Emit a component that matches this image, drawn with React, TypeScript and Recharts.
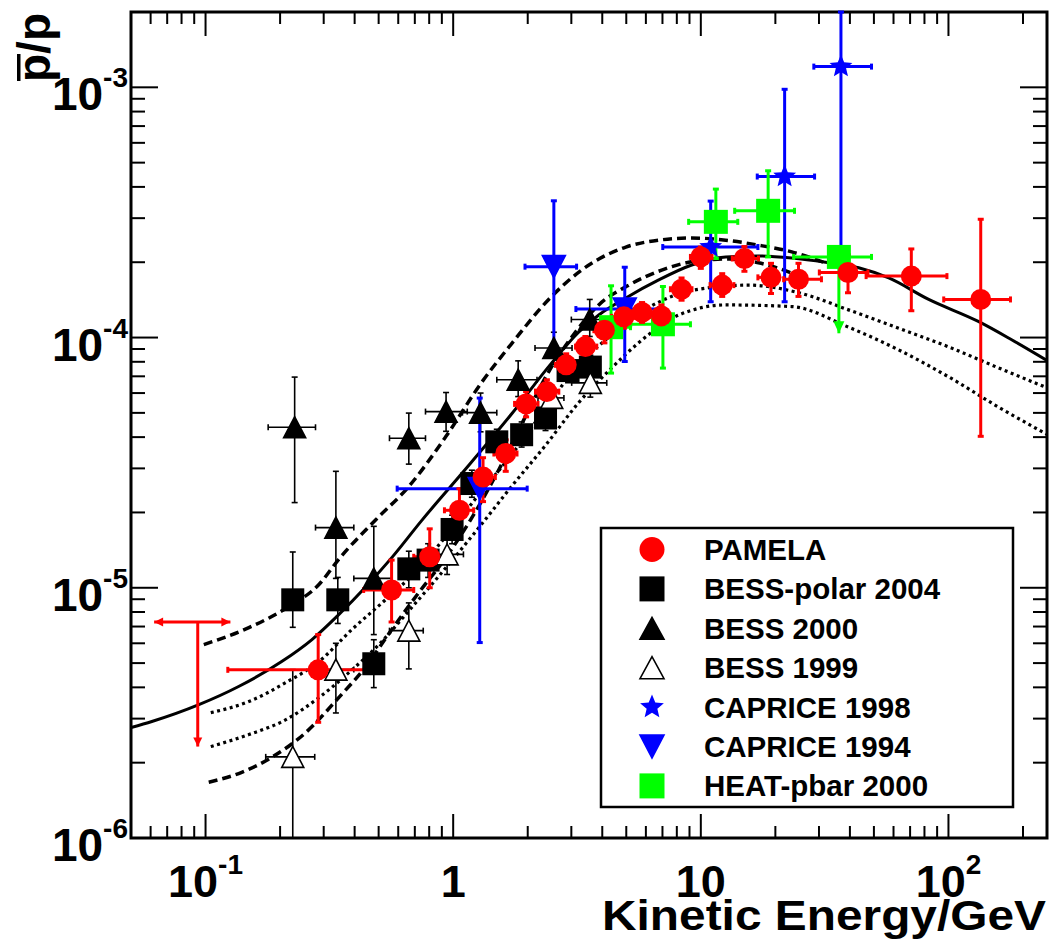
import React from "react";
import {
  ComposedChart,
  Line,
  Scatter,
  XAxis,
  YAxis,
  ErrorBar,
  ReferenceArea,
} from "recharts";

// rows: [E, Elow, Ehigh, ratio, ratioLow, ratioHigh]  (E in GeV)
const pamela = [
  [0.285, 0.123, 0.44, 4.7e-6, 2.9e-6, 6.5e-6],
  [0.564, 0.435, 0.693, 9.8e-6, 7.3e-6, 1.29e-5],
  [0.804, 0.693, 0.942, 1.33e-5, 1.0e-5, 1.72e-5],
  [1.06, 0.922, 1.21, 2.04e-5, 1.6e-5, 2.49e-5],
  [1.32, 1.175, 1.48, 2.77e-5, 2.21e-5, 3.31e-5],
  [1.63, 1.46, 1.81, 3.44e-5, 2.92e-5, 3.9e-5],
  [1.97, 1.77, 2.2, 5.43e-5, 4.82e-5, 6.08e-5],
  [2.39, 2.15, 2.67, 6.08e-5, 5.43e-5, 6.78e-5],
  [2.86, 2.59, 3.15, 7.78e-5, 6.9e-5, 8.61e-5],
  [3.42, 3.12, 3.8, 9.2e-5, 8.15e-5, 1.01e-4],
  [4.08, 3.7, 4.52, 1.07e-4, 9.52e-5, 1.2e-4],
  [4.89, 4.36, 5.36, 1.21e-4, 1.09e-4, 1.33e-4],
  [5.79, 5.26, 6.46, 1.26e-4, 1.15e-4, 1.38e-4],
  [6.93, 6.27, 7.64, 1.22e-4, 1.11e-4, 1.35e-4],
  [8.36, 7.54, 9.21, 1.56e-4, 1.41e-4, 1.73e-4],
  [10.0, 9.08, 11.1, 2.1e-4, 1.89e-4, 2.3e-4],
  [12.2, 10.9, 13.6, 1.62e-4, 1.46e-4, 1.8e-4],
  [15.0, 13.4, 17.1, 2.07e-4, 1.84e-4, 2.31e-4],
  [19.2, 17.0, 20.7, 1.74e-4, 1.5e-4, 1.98e-4],
  [24.8, 21.6, 30.7, 1.71e-4, 1.46e-4, 1.98e-4],
  [39.3, 30.1, 47.3, 1.82e-4, 1.51e-4, 2.14e-4],
  [70.8, 46.5, 98.6, 1.76e-4, 1.28e-4, 2.26e-4],
  [135, 95.7, 178, 1.42e-4, 4.03e-5, 2.97e-4],
];
// upper limit at lowest energy
const pamelaLimit = [[0.093, 0.062, 0.126, 7.3e-6, 2.32e-6, 7.3e-6]];

// [E, ratio, ratioLow, ratioHigh]
const bessPolar = [
  [0.225, 8.95e-6, 6.95e-6, 1.39e-5],
  [0.342, 8.95e-6, 7.2e-6, 1.1e-5],
  [0.478, 4.97e-6, 3.99e-6, 6.2e-6],
  [0.662, 1.19e-5, 1.0e-5, 1.4e-5],
  [0.792, 1.29e-5, 1.1e-5, 1.5e-5],
  [0.99, 1.71e-5, 1.5e-5, 1.95e-5],
  [1.19, 2.61e-5, 2.3e-5, 2.95e-5],
  [1.5, 3.83e-5, 3.4e-5, 4.3e-5],
  [1.89, 4.09e-5, 3.65e-5, 4.6e-5],
  [2.36, 4.77e-5, 4.25e-5, 5.35e-5],
  [2.91, 7.38e-5, 6.6e-5, 8.25e-5],
  [3.58, 7.62e-5, 6.8e-5, 8.5e-5],
];

const bess2000 = [
  [0.229, 0.179, 0.278, 4.38e-5, 2.19e-5, 6.95e-5],
  [0.336, 0.278, 0.397, 1.74e-5, 1.09e-5, 2.92e-5],
  [0.478, 0.397, 0.566, 1.09e-5, 6.5e-6, 1.76e-5],
  [0.662, 0.553, 0.773, 3.96e-5, 3.12e-5, 4.99e-5],
  [0.936, 0.773, 1.14, 5.06e-5, 4.22e-5, 6.03e-5],
  [1.29, 1.09, 1.5, 5.01e-5, 4.2e-5, 6.0e-5],
  [1.83, 1.5, 2.18, 6.78e-5, 5.81e-5, 8.07e-5],
  [2.55, 2.14, 3.02, 9.08e-5, 7.8e-5, 1.05e-4],
  [3.56, 3.0, 4.26, 1.18e-4, 1.01e-4, 1.42e-4],
];

const bess1999 = [
  [0.225, 0.175, 0.276, 2.11e-6, 1.0e-6, 4.71e-6],
  [0.336, 0.278, 0.397, 4.71e-6, 3.16e-6, 6.0e-6],
  [0.662, 0.553, 0.757, 6.74e-6, 4.74e-6, 8.7e-6],
  [0.945, 0.82, 1.1, 1.36e-5, 1.13e-5, 1.6e-5],
  [2.5, 2.2, 2.8, 5.74e-5, 5.2e-5, 6.3e-5],
  [3.58, 3.01, 4.17, 6.59e-5, 5.78e-5, 7.5e-5],
];

const caprice1998 = [
  [10.96, 7.02, 17.0, 2.3e-4, 1.39e-4, 3.51e-4],
  [21.8, 16.9, 28.8, 4.4e-4, 1.39e-4, 9.82e-4],
  [36.8, 28.6, 48.9, 1.21e-3, 2.0e-4, 2.0e-3],
];

const caprice1994 = [
  [1.28, 0.594, 1.99, 2.49e-5, 6.04e-6, 5.73e-5],
  [2.55, 1.95, 3.15, 1.92e-4, 9.2e-5, 3.52e-4],
  [4.93, 3.13, 6.76, 1.3e-4, 8.02e-5, 1.91e-4],
];

const heat2000 = [
  [4.34, 3.65, 5.2, 1.1e-4, 7.21e-5, 1.61e-4],
  [7.03, 5.21, 9.08, 1.13e-4, 7.55e-5, 1.6e-4],
  [11.5, 8.93, 14.1, 2.9e-4, 2.07e-4, 3.92e-4],
  [18.7, 13.7, 23.9, 3.21e-4, 2.1e-4, 4.64e-4],
];
const heatLimit = [[36.1, 23.7, 48.9, 2.1e-4, 1.04e-4, 2.1e-4]];

// model curves [E, ratio]
const solidCurve = [
  [0.05, 2.76e-6], [0.0607, 2.92e-6], [0.094, 3.41e-6], [0.136, 4.03e-6],
  [0.203, 5.07e-6], [0.269, 6.21e-6], [0.345, 7.81e-6], [0.444, 1.01e-5],
  [0.565, 1.32e-5], [0.747, 1.86e-5], [1.083, 2.86e-5], [1.724, 4.96e-5],
  [2.5, 7.92e-5], [3.21, 1.05e-4], [3.87, 1.23e-4], [4.98, 1.44e-4],
  [6.76, 1.7e-4], [9.19, 1.95e-4], [12.6, 2.1e-4], [17.1, 2.12e-4],
  [23.3, 2.08e-4], [31.9, 2.0e-4], [43.4, 1.9e-4], [57.4, 1.73e-4],
  [83.2, 1.42e-4], [132, 1.16e-4], [180, 9.8e-5], [250, 8.1e-5],
];
const dashedUpper = [
  [0.0984, 5.93e-6], [0.1496, 6.93e-6], [0.217, 8.41e-6], [0.287, 1.03e-5],
  [0.345, 1.3e-5], [0.487, 1.87e-5], [0.662, 2.54e-5], [0.934, 4.02e-5],
  [1.3, 6.6e-5], [1.72, 9.44e-5], [2.43, 1.42e-4], [3.3, 1.86e-4],
  [4.98, 2.3e-4], [6.76, 2.45e-4], [9.19, 2.5e-4], [12.6, 2.45e-4],
  [17.1, 2.34e-4], [23.3, 2.2e-4], [31.3, 2.0e-4],
];
const dashedLower = [
  [0.103, 1.67e-6], [0.14, 1.83e-6], [0.185, 2.1e-6], [0.254, 2.64e-6],
  [0.345, 3.64e-6], [0.444, 4.84e-6], [0.565, 6.81e-6], [0.726, 9.56e-6],
  [0.934, 1.32e-5], [1.21, 1.96e-5], [1.53, 2.97e-5], [1.93, 4.7e-5],
  [2.43, 7.3e-5], [3.07, 1.03e-4], [3.87, 1.35e-4], [5.12, 1.62e-4],
  [6.95, 1.86e-4], [9.54, 2.02e-4], [13.0, 2.06e-4], [17.1, 1.99e-4],
  [22.6, 1.83e-4], [26.8, 1.7e-4],
];
const dottedUpper = [
  [0.105, 3.17e-6], [0.1496, 3.51e-6], [0.211, 4.18e-6], [0.287, 5.07e-6],
  [0.39, 6.81e-6], [0.534, 8.97e-6], [0.706, 1.16e-5], [0.96, 1.66e-5],
  [1.27, 2.36e-5], [1.72, 3.4e-5], [2.37, 5.25e-5], [3.21, 7.78e-5],
  [4.13, 9.8e-5], [6.16, 1.32e-4], [9.8, 1.56e-4], [15.6, 1.62e-4],
  [24.9, 1.51e-4], [39.5, 1.29e-4], [62.9, 1.09e-4], [100, 9.18e-5],
  [159, 7.57e-5], [250, 6.3e-5],
];
const dottedLower = [
  [0.105, 2.32e-6], [0.1496, 2.59e-6], [0.211, 2.97e-6], [0.287, 3.64e-6],
  [0.379, 4.58e-6], [0.515, 6.1e-6], [0.68, 8.34e-6], [0.9, 1.15e-5],
  [1.27, 1.74e-5], [1.72, 2.54e-5], [2.37, 3.73e-5], [3.21, 5.49e-5],
  [4.37, 7.57e-5], [5.61, 9.53e-5], [8.14, 1.23e-4], [12.6, 1.35e-4],
  [23.3, 1.33e-4], [39.5, 1.1e-4], [62.9, 8.93e-5], [100, 6.97e-5],
  [159, 5.28e-5], [250, 4.1e-5],
];

const X_DOMAIN = [0.05, 250];
const Y_DOMAIN = [1e-6, 2e-3];
const X_MAJOR = [0.1, 1, 10, 100];
const X_BASE = ["10", "1", "10", "10"];
const X_EXP = ["-1", "", "", "2"];
const X_MINOR = [
  0.05, 0.06, 0.07, 0.08, 0.09, 0.2, 0.3, 0.4, 0.5, 0.6, 0.7, 0.8, 0.9,
  2, 3, 4, 5, 6, 7, 8, 9, 20, 30, 40, 50, 60, 70, 80, 90, 200,
];
const Y_MAJOR = [1e-6, 1e-5, 1e-4, 1e-3];
const Y_EXP = ["-6", "-5", "-4", "-3"];
const Y_MINOR = [
  2e-6, 3e-6, 4e-6, 5e-6, 6e-6, 7e-6, 8e-6, 9e-6,
  2e-5, 3e-5, 4e-5, 5e-5, 6e-5, 7e-5, 8e-5, 9e-5,
  2e-4, 3e-4, 4e-4, 5e-4, 6e-4, 7e-4, 8e-4, 9e-4,
];
const LEGEND_NAMES = [
  "PAMELA",
  "BESS-polar 2004",
  "BESS 2000",
  "BESS 1999",
  "CAPRICE 1998",
  "CAPRICE 1994",
  "HEAT-pbar 2000",
];

const W = 1051;
const H = 943;
const MARGIN = { top: 12, right: 4, bottom: 0, left: 0 };
const Y_AXIS_W = 131;
const X_AXIS_H = 105;
const PLOT_W = W - MARGIN.left - MARGIN.right - Y_AXIS_W;
const PLOT_H = H - MARGIN.top - MARGIN.bottom - X_AXIS_H;

const RED = "#ff0000";
const BLUE = "#0000ff";
const GREEN = "#00ff00";
const FONT = "'Liberation Sans', Arial, Helvetica, sans-serif";

const toPoints = (rows: number[][]) =>
  rows.map(([x, xl, xh, y, yl, yh]) => ({
    x,
    y,
    ex: [x - xl, xh - x],
    ey: [y - yl, yh - y],
  }));
const toCurve = (rows: number[][]) => rows.map(([x, y]) => ({ x, y }));

const pamelaPts = toPoints(pamela);
const pamelaLimitPts = toPoints(pamelaLimit);
const bessPolarPts = bessPolar.map(([x, y, yl, yh]) => ({ x, y, ey: [y - yl, yh - y] }));
const bess2000Pts = toPoints(bess2000);
const bess1999Pts = toPoints(bess1999);
const caprice98Pts = toPoints(caprice1998);
const caprice94Pts = toPoints(caprice1994);
const heatPts = toPoints(heat2000);
const heatLimitPts = toPoints(heatLimit);
const pamelaArrows = pamelaLimit.flatMap(([x, xl, xh, y, yl]) => [
  { x: xl, y, dir: "left" },
  { x: xh, y, dir: "right" },
  { x, y: yl, dir: "down" },
]);
const heatArrows = heatLimit.map(([x, , , , yl]) => ({ x, y: yl, dir: "down" }));

// ---------- marker shapes ----------
const circleAt = (cx: number, cy: number, r: number, fill: string) => (
  <circle cx={cx} cy={cy} r={r} fill={fill} />
);
const squareAt = (cx: number, cy: number, s: number, fill: string) => (
  <rect x={cx - s / 2} y={cy - s / 2} width={s} height={s} fill={fill} />
);
const triAt = (cx: number, cy: number, w: number, h: number, fill: string, stroke: string, down = false) => {
  const tip = down ? cy + h / 2 : cy - h / 2;
  const base = down ? cy - h / 2 : cy + h / 2;
  return (
    <polygon
      points={`${cx - w / 2},${base} ${cx + w / 2},${base} ${cx},${tip}`}
      fill={fill}
      stroke={stroke}
      strokeWidth={1.6}
    />
  );
};
const starAt = (cx: number, cy: number, R: number, fill: string) => {
  const pts: string[] = [];
  for (let k = 0; k < 10; k++) {
    const a = -Math.PI / 2 + (k * Math.PI) / 5;
    const rr = k % 2 === 0 ? R : R * 0.45;
    pts.push(`${cx + rr * Math.cos(a)},${cy + rr * Math.sin(a)}`);
  }
  return <polygon points={pts.join(" ")} fill={fill} />;
};

const arrowHead = (fill: string, len: number, half: number) => (p: any) => {
  const { cx, cy } = p;
  const dir = p.payload?.dir;
  let pts = "";
  if (dir === "down") pts = `${cx},${cy} ${cx - half},${cy - len} ${cx + half},${cy - len}`;
  if (dir === "left") pts = `${cx},${cy} ${cx + len},${cy - half} ${cx + len},${cy + half}`;
  if (dir === "right") pts = `${cx},${cy} ${cx - len},${cy - half} ${cx - len},${cy + half}`;
  return <polygon points={pts} fill={fill} />;
};

// ---------- axis ticks (ROOT style, on all four sides) ----------
const near = (a: number, b: number) => Math.abs(a - b) / b < 1e-6;

function XTick(p: any) {
  const { x, y, payload } = p;
  const i = X_MAJOR.findIndex((m) => near(payload.value, m));
  const len = i >= 0 ? 24 : 12;
  return (
    <g>
      <line x1={x} y1={y} x2={x} y2={y - len} stroke="#000" strokeWidth={2} />
      <line x1={x} y1={y - PLOT_H} x2={x} y2={y - PLOT_H + len} stroke="#000" strokeWidth={2} />
      {i >= 0 && (
        <text x={x} y={y + 59} textAnchor="middle" fontFamily={FONT} fontWeight="bold" fill="#000">
          <tspan fontSize={45}>{X_BASE[i]}</tspan>
          {X_EXP[i] && (
            <tspan fontSize={28} dy={-23}>
              {X_EXP[i]}
            </tspan>
          )}
        </text>
      )}
    </g>
  );
}

function YTick(p: any) {
  const { x, y, payload } = p;
  const i = Y_MAJOR.findIndex((m) => near(payload.value, m));
  const len = i >= 0 ? 27 : 14;
  return (
    <g>
      <line x1={x} y1={y} x2={x + len} y2={y} stroke="#000" strokeWidth={2} />
      <line x1={x + PLOT_W} y1={y} x2={x + PLOT_W - len} y2={y} stroke="#000" strokeWidth={2} />
      {i >= 0 && (
        <text x={x - 3} y={y + 23} textAnchor="end" fontFamily={FONT} fontWeight="bold" fill="#000">
          <tspan fontSize={46}>10</tspan>
          <tspan fontSize={28} dy={-23}>
            {Y_EXP[i]}
          </tspan>
        </text>
      )}
    </g>
  );
}

function Overlay() {
  const mx = 652;
  const tx = 704;
  const first = 549.5;
  const step = 39.4;
  const markers = [
    (cy: number) => circleAt(mx, cy, 12.5, RED),
    (cy: number) => squareAt(mx, cy, 25, "#000"),
    (cy: number) => triAt(mx, cy, 24, 22, "#000", "#000"),
    (cy: number) => triAt(mx, cy, 24, 22, "#fff", "#000"),
    (cy: number) => starAt(mx, cy, 12.5, BLUE),
    (cy: number) => triAt(mx, cy, 24, 23, BLUE, BLUE, true),
    (cy: number) => squareAt(mx, cy, 25, GREEN),
  ];
  return (
    <svg
      width={W}
      height={H}
      style={{ position: "absolute", left: 0, top: 0, pointerEvents: "none" }}
    >
      {/* y axis title: pbar / p */}
      <g transform="translate(50, 82) rotate(-90)">
        <text x={0} y={0} fontSize={46} fontWeight="bold" fontFamily={FONT} fill="#000">
          p/p
        </text>
        <rect x={1} y={-33} width={27} height={3.5} fill="#000" />
      </g>
      <text
        x={1046}
        y={930}
        textAnchor="end"
        fontSize={43}
        fontWeight="bold"
        fontFamily={FONT}
        textLength={444}
        lengthAdjust="spacingAndGlyphs"
        fill="#000"
      >
        Kinetic Energy/GeV
      </text>

      <rect x={601} y={528} width={412} height={279} fill="#fff" stroke="#000" strokeWidth={2.5} />
      {LEGEND_NAMES.map((name, i) => {
        const cy = first + i * step;
        return (
          <g key={name}>
            {markers[i](cy)}
            <text x={tx} y={cy + 10.5} fontSize={29.5} fontWeight="bold" fontFamily={FONT} fill="#000">
              {name}
            </text>
          </g>
        );
      })}
    </svg>
  );
}

export default function App() {
  return (
    <div style={{ position: "absolute", left: 0, top: 0, width: W, height: H, background: "#fff" }}>
      <ComposedChart width={W} height={H} margin={MARGIN}>
        <XAxis
          dataKey="x"
          type="number"
          scale="log"
          domain={X_DOMAIN}
          allowDataOverflow
          ticks={[...X_MAJOR, ...X_MINOR]}
          interval={0}
          height={X_AXIS_H}
          axisLine={false}
          tickLine={false}
          tickSize={0}
          tickMargin={0}
          tick={(p: any) => <XTick {...p} />}
        />
        <YAxis
          dataKey="y"
          type="number"
          scale="log"
          domain={Y_DOMAIN}
          allowDataOverflow
          ticks={[...Y_MAJOR, ...Y_MINOR]}
          interval={0}
          width={Y_AXIS_W}
          axisLine={false}
          tickLine={false}
          tickSize={0}
          tickMargin={0}
          tick={(p: any) => <YTick {...p} />}
        />

        <Line data={toCurve(solidCurve)} dataKey="y" type="monotone" stroke="#000" strokeWidth={3} dot={false} isAnimationActive={false} />
        <Line data={toCurve(dashedUpper)} dataKey="y" type="monotone" stroke="#000" strokeWidth={3.5} strokeDasharray="9 5" dot={false} isAnimationActive={false} />
        <Line data={toCurve(dashedLower)} dataKey="y" type="monotone" stroke="#000" strokeWidth={3.5} strokeDasharray="9 5" dot={false} isAnimationActive={false} />
        <Line data={toCurve(dottedUpper)} dataKey="y" type="monotone" stroke="#000" strokeWidth={3.2} strokeDasharray="3 3.5" dot={false} isAnimationActive={false} />
        <Line data={toCurve(dottedLower)} dataKey="y" type="monotone" stroke="#000" strokeWidth={3.2} strokeDasharray="3 3.5" dot={false} isAnimationActive={false} />

        <Scatter data={bessPolarPts} isAnimationActive={false} shape={(p: any) => squareAt(p.cx, p.cy, 23, "#000")}>
          <ErrorBar dataKey="ey" direction="y" width={3} stroke="#000" strokeWidth={1.6} isAnimationActive={false} />
        </Scatter>
        <Scatter data={bess2000Pts} isAnimationActive={false} shape={(p: any) => triAt(p.cx, p.cy, 22, 21, "#000", "#000")}>
          <ErrorBar dataKey="ex" direction="x" width={3} stroke="#000" strokeWidth={1.6} isAnimationActive={false} />
          <ErrorBar dataKey="ey" direction="y" width={3} stroke="#000" strokeWidth={1.6} isAnimationActive={false} />
        </Scatter>
        <Scatter data={bess1999Pts} isAnimationActive={false} shape={(p: any) => triAt(p.cx, p.cy, 22, 21, "#fff", "#000")}>
          <ErrorBar dataKey="ex" direction="x" width={3} stroke="#000" strokeWidth={1.6} isAnimationActive={false} />
          <ErrorBar dataKey="ey" direction="y" width={3} stroke="#000" strokeWidth={1.6} isAnimationActive={false} />
        </Scatter>
        <Scatter data={caprice98Pts} isAnimationActive={false} shape={(p: any) => starAt(p.cx, p.cy, 12, BLUE)}>
          <ErrorBar dataKey="ex" direction="x" width={3} stroke={BLUE} strokeWidth={3} isAnimationActive={false} />
          <ErrorBar dataKey="ey" direction="y" width={3} stroke={BLUE} strokeWidth={3} isAnimationActive={false} />
        </Scatter>
        <Scatter data={caprice94Pts} isAnimationActive={false} shape={(p: any) => triAt(p.cx, p.cy, 23, 22, BLUE, BLUE, true)}>
          <ErrorBar dataKey="ex" direction="x" width={3} stroke={BLUE} strokeWidth={3} isAnimationActive={false} />
          <ErrorBar dataKey="ey" direction="y" width={3} stroke={BLUE} strokeWidth={3} isAnimationActive={false} />
        </Scatter>
        <Scatter data={heatPts} isAnimationActive={false} shape={(p: any) => squareAt(p.cx, p.cy, 24, GREEN)}>
          <ErrorBar dataKey="ex" direction="x" width={3} stroke={GREEN} strokeWidth={3} isAnimationActive={false} />
          <ErrorBar dataKey="ey" direction="y" width={3} stroke={GREEN} strokeWidth={3} isAnimationActive={false} />
        </Scatter>
        <Scatter data={heatLimitPts} isAnimationActive={false} shape={(p: any) => squareAt(p.cx, p.cy, 24, GREEN)}>
          <ErrorBar dataKey="ex" direction="x" width={3} stroke={GREEN} strokeWidth={3} isAnimationActive={false} />
          <ErrorBar dataKey="ey" direction="y" width={0} stroke={GREEN} strokeWidth={3} isAnimationActive={false} />
        </Scatter>
        <Scatter data={heatArrows} isAnimationActive={false} shape={arrowHead(GREEN, 12, 5.5)} />
        <Scatter data={pamelaLimitPts} isAnimationActive={false} shape={() => <g />}>
          <ErrorBar dataKey="ex" direction="x" width={0} stroke={RED} strokeWidth={3} isAnimationActive={false} />
          <ErrorBar dataKey="ey" direction="y" width={0} stroke={RED} strokeWidth={3} isAnimationActive={false} />
        </Scatter>
        <Scatter data={pamelaArrows} isAnimationActive={false} shape={arrowHead(RED, 9, 4.5)} />
        <Scatter data={pamelaPts} isAnimationActive={false} shape={(p: any) => circleAt(p.cx, p.cy, 10.5, RED)}>
          <ErrorBar dataKey="ex" direction="x" width={3} stroke={RED} strokeWidth={3} isAnimationActive={false} />
          <ErrorBar dataKey="ey" direction="y" width={3} stroke={RED} strokeWidth={3} isAnimationActive={false} />
        </Scatter>

        <ReferenceArea
          x1={X_DOMAIN[0]}
          x2={X_DOMAIN[1]}
          y1={Y_DOMAIN[0]}
          y2={Y_DOMAIN[1]}
          fill="none"
          stroke="#000"
          strokeWidth={3}
          ifOverflow="visible"
        />
      </ComposedChart>
      <Overlay />
    </div>
  );
}
